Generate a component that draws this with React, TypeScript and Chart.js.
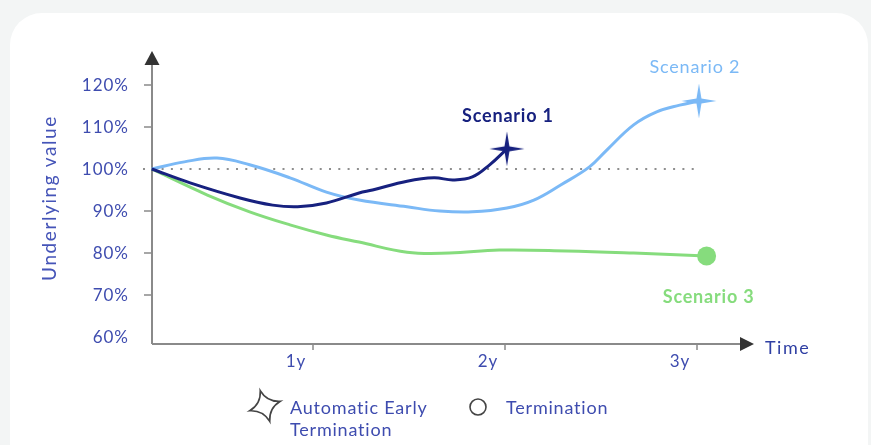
import React, { useEffect, useRef } from 'react';
import { Chart, registerables } from 'chart.js';

Chart.register(...registerables);

// ---------- data ----------
const TIME_S1 = [0.16, 0.36, 0.62, 0.79, 0.92, 1.07, 1.24, 1.31, 1.49, 1.63, 1.73, 1.83, 1.92, 2.01];
const VALUE_S1 = [100, 96.7, 93.1, 91.4, 91.0, 91.9, 94.3, 95.0, 97.1, 97.9, 97.4, 98.1, 101.0, 104.8];

const TIME_S2 = [0.16, 0.33, 0.5, 0.67, 0.88, 1.07, 1.24, 1.49, 1.66, 1.83, 2.01, 2.15, 2.29, 2.44, 2.53, 2.67, 2.79, 2.91, 3.01];
const VALUE_S2 = [100, 101.7, 102.6, 101.0, 97.9, 94.5, 92.6, 91.0, 90.0, 89.8, 90.7, 92.6, 96.2, 100.5, 104.5, 110.5, 113.6, 115.2, 116.2];

const TIME_S3 = [0.16, 0.45, 0.67, 0.88, 1.07, 1.24, 1.49, 1.71, 1.97, 2.32, 2.67, 3.05];
const VALUE_S3 = [100, 93.8, 89.8, 86.7, 84.3, 82.6, 80.2, 80.0, 80.7, 80.5, 80.0, 79.3];

const SERIES_NAMES = ['Scenario 1', 'Scenario 2', 'Scenario 3'];
const Y_TICKS = [60, 70, 80, 90, 100, 110, 120];
const Y_TICK_LABELS = ['60%', '70%', '80%', '90%', '100%', '110%', '120%'];
const X_TICKS = [1, 2, 3];
const X_TICK_LABELS = ['1y', '2y', '3y'];
const REFERENCE_LEVEL = 100;
const REFERENCE_END = 3.02;
const Y_TITLE = 'Underlying value';
const X_TITLE = 'Time';
const LEGEND_STAR_LINES = ['Automatic Early', 'Termination'];
const LEGEND_CIRCLE_LABEL = 'Termination';

// ---------- styles ----------
const NAVY = '#17217f';
const LIGHT = '#7bb9f6';
const GREEN = '#86dc7d';
const TEXT = '#3e4caf';
const FONT = 'Lato, "Open Sans", sans-serif';

function makeSparkle(size: number, color: string, innerRatio: number) {
  const c = document.createElement('canvas');
  c.width = size;
  c.height = size;
  const g = c.getContext('2d')!;
  const R = size / 2 - 0.5;
  const ri = R * innerRatio;
  g.translate(size / 2, size / 2);
  g.beginPath();
  for (let i = 0; i < 4; i++) {
    const a = (i * Math.PI) / 2 - Math.PI / 2;
    const b = a + Math.PI / 4;
    const ox = Math.cos(a) * R;
    const oy = Math.sin(a) * R;
    if (i === 0) g.moveTo(ox, oy);
    else g.lineTo(ox, oy);
    g.lineTo(Math.cos(b) * ri, Math.sin(b) * ri);
  }
  g.closePath();
  g.fillStyle = color;
  g.fill();
  return c;
}

function setSpacing(ctx: any, px: number) {
  if ('letterSpacing' in ctx) ctx.letterSpacing = `${px}px`;
}

function App() {
  const ref = useRef<HTMLCanvasElement | null>(null);

  useEffect(() => {
    const canvas = ref.current!;
    const star1 = makeSparkle(36, NAVY, 0.2);
    const star2 = makeSparkle(36, LIGHT, 0.2);

    const mk = (t: number[], v: number[]) => t.map((x, i) => ({ x, y: v[i] }));
    const lastIdx = (n: number) => (ctx: any) => ctx.dataIndex === n - 1;

    const deco = {
      id: 'deco',
      beforeDatasetsDraw(chart: any) {
        const { ctx, chartArea } = chart;
        const xs = chart.scales.x;
        const ys = chart.scales.y;
        const left = chartArea.left;
        const bottom = chartArea.bottom;
        ctx.save();
        // dotted reference line
        const yRef = ys.getPixelForValue(REFERENCE_LEVEL);
        ctx.strokeStyle = '#8e8e8e';
        ctx.lineWidth = 2;
        ctx.setLineDash([2, 7.3]);
        ctx.beginPath();
        ctx.moveTo(left - 9, yRef);
        ctx.lineTo(xs.getPixelForValue(REFERENCE_END), yRef);
        ctx.stroke();
        ctx.setLineDash([]);

        // axes
        ctx.strokeStyle = '#8a8a8a';
        ctx.lineWidth = 2;
        ctx.beginPath();
        ctx.moveTo(left, bottom);
        ctx.lineTo(left, chartArea.top + 12);
        ctx.moveTo(left, bottom);
        ctx.lineTo(chartArea.right - 12, bottom);
        ctx.stroke();
        ctx.fillStyle = '#333';
        ctx.beginPath();
        ctx.moveTo(left, chartArea.top);
        ctx.lineTo(left - 7.5, chartArea.top + 14);
        ctx.lineTo(left + 7.5, chartArea.top + 14);
        ctx.closePath();
        ctx.fill();
        ctx.beginPath();
        ctx.moveTo(chartArea.right, bottom);
        ctx.lineTo(chartArea.right - 14, bottom - 7);
        ctx.lineTo(chartArea.right - 14, bottom + 7);
        ctx.closePath();
        ctx.fill();

        // y ticks
        ctx.strokeStyle = '#8a8a8a';
        ctx.lineWidth = 1.5;
        ctx.font = `17px ${FONT}`;
        setSpacing(ctx, 1);
        ctx.fillStyle = TEXT;
        ctx.textAlign = 'right';
        ctx.textBaseline = 'middle';
        Y_TICKS.forEach((v, i) => {
          const y = ys.getPixelForValue(v);
          if (v !== REFERENCE_LEVEL && i > 0) {
            ctx.beginPath();
            ctx.moveTo(left - 8, y);
            ctx.lineTo(left, y);
            ctx.stroke();
          }
          ctx.fillText(Y_TICK_LABELS[i], left - 23, y + 1);
        });
        // x ticks
        ctx.textAlign = 'center';
        X_TICKS.forEach((t, i) => {
          const x = xs.getPixelForValue(t);
          ctx.beginPath();
          ctx.moveTo(x, bottom);
          ctx.lineTo(x, bottom + 6);
          ctx.stroke();
          ctx.fillText(X_TICK_LABELS[i], x - 17, bottom + 18);
        });
        // axis titles
        ctx.font = `18px ${FONT}`;
        setSpacing(ctx, 1.5);
        ctx.fillStyle = '#2f3fa3';
        ctx.textAlign = 'left';
        ctx.fillText(X_TITLE, chartArea.right + 11, bottom + 4);
        ctx.save();
        ctx.translate(50, 198);
        ctx.rotate(-Math.PI / 2);
        ctx.textAlign = 'center';
        ctx.fillStyle = '#4554b8';
        ctx.font = `19px ${FONT}`;
        setSpacing(ctx, 1.6);
        ctx.fillText(Y_TITLE, 0, 0);
        ctx.restore();
        ctx.restore();
      },
      afterDraw(chart: any) {
        const { ctx } = chart;
        ctx.save();
        ctx.textAlign = 'center';
        ctx.textBaseline = 'middle';
        const last = (i: number) => {
          const d = chart.getDatasetMeta(i).data;
          return d[d.length - 1];
        };
        const p1 = last(0);
        const p2 = last(1);
        const p3 = last(2);
        setSpacing(ctx, 0.8);
        ctx.font = `bold 18px ${FONT}`;
        ctx.fillStyle = NAVY;
        ctx.fillText(SERIES_NAMES[0], p1.x + 1, p1.y - 33);
        ctx.font = `18px ${FONT}`;
        ctx.fillStyle = LIGHT;
        ctx.fillText(SERIES_NAMES[1], p2.x - 4, p2.y - 34);
        ctx.font = `bold 18px ${FONT}`;
        ctx.fillStyle = GREEN;
        ctx.fillText(SERIES_NAMES[2], p3.x + 2, p3.y + 41);

        // legend
        ctx.strokeStyle = '#444';
        ctx.lineWidth = 1.6;
        ctx.save();
        ctx.translate(265, 406);
        ctx.rotate(-0.3);
        const R = 16;
        const ri = 4.5;
        ctx.beginPath();
        for (let i = 0; i < 4; i++) {
          const a = (i * Math.PI) / 2 - Math.PI / 2;
          const b = a + Math.PI / 4;
          const n = a + Math.PI / 2;
          if (i === 0) ctx.moveTo(Math.cos(a) * R, Math.sin(a) * R);
          ctx.quadraticCurveTo(Math.cos(b) * ri, Math.sin(b) * ri, Math.cos(n) * R, Math.sin(n) * R);
        }
        ctx.closePath();
        ctx.stroke();
        ctx.restore();

        ctx.beginPath();
        ctx.arc(478, 407, 8, 0, Math.PI * 2);
        ctx.stroke();

        ctx.font = `18px ${FONT}`;
        ctx.fillStyle = TEXT;
        ctx.textAlign = 'left';
        ctx.fillText(LEGEND_STAR_LINES[0], 290, 408);
        ctx.fillText(LEGEND_STAR_LINES[1], 290, 430);
        ctx.fillText(LEGEND_CIRCLE_LABEL, 506, 408);
        ctx.restore();
      },
    };

    const chart = new Chart(canvas, {
      type: 'line',
      data: {
        datasets: [
          {
            label: SERIES_NAMES[0],
            data: mk(TIME_S1, VALUE_S1),
            borderColor: NAVY,
            borderWidth: 3,
            tension: 0.4,
            pointStyle: (c: any) => (lastIdx(TIME_S1.length)(c) ? star1 : 'circle'),
            pointRadius: (c: any) => (lastIdx(TIME_S1.length)(c) ? 18 : 0),
            clip: false,
          },
          {
            label: SERIES_NAMES[1],
            data: mk(TIME_S2, VALUE_S2),
            borderColor: LIGHT,
            borderWidth: 3,
            tension: 0.4,
            pointStyle: (c: any) => (lastIdx(TIME_S2.length)(c) ? star2 : 'circle'),
            pointRadius: (c: any) => (lastIdx(TIME_S2.length)(c) ? 18 : 0),
            clip: false,
          },
          {
            label: SERIES_NAMES[2],
            data: mk(TIME_S3, VALUE_S3),
            borderColor: GREEN,
            backgroundColor: GREEN,
            borderWidth: 3,
            tension: 0.4,
            pointStyle: 'circle',
            pointRadius: (c: any) => (lastIdx(TIME_S3.length)(c) ? 9.5 : 0),
            pointBorderWidth: 0,
            clip: false,
          },
        ] as any,
      },
      options: {
        animation: false,
        responsive: false,
        events: [],
        layout: { padding: { left: 152, right: 871 - 754, top: 51, bottom: 445 - 344 } },
        plugins: { legend: { display: false }, tooltip: { enabled: false } },
        scales: {
          x: { type: 'linear', display: false, min: (152 - 121) / 192, max: (754 - 121) / 192 },
          y: { type: 'linear', display: false, min: 100 - 175 / 4.2, max: 100 + 118 / 4.2 },
        },
      },
      plugins: [deco],
    });
    return () => chart.destroy();
  }, []);

  return (
    <div style={{ position: 'fixed', left: 0, top: 0, width: 871, height: 445, background: '#f3f5f5', overflow: 'hidden' }}>
      <div style={{ position: 'absolute', left: 10, top: 13, width: 858, height: 470, background: '#ffffff', borderRadius: 32 }} />
      <canvas ref={ref} width={871} height={445} style={{ position: 'absolute', left: 0, top: 0, width: 871, height: 445 }} />
    </div>
  );
}

export default App;
